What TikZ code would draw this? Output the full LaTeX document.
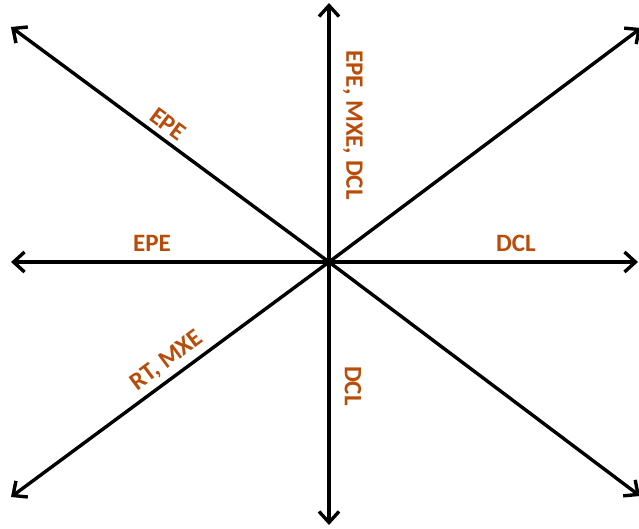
\documentclass[tikz,border=0pt]{standalone}
\usepackage{fontspec}
\setmainfont{Carlito}
\usetikzlibrary{arrows.meta}
\definecolor{labelbrown}{RGB}{184,76,8}
\tikzset{
  axis/.style={black, line width=3.4pt, -{Straight Barb[length=11pt,width=20pt,line width=3.4pt]}},
  tag/.style={text=labelbrown, font=\fontsize{25}{28}\selectfont\bfseries, inner sep=0pt}
}
\begin{document}
\begin{tikzpicture}[x=1pt,y=-1pt]
\useasboundingbox (0,0) rectangle (639,529);

\coordinate (O) at (329,262);
\coordinate (n) at (329,3);
\coordinate (s) at (329,525);
\coordinate (w) at (11,262);
\coordinate (e) at (638,262);
\coordinate (nw) at (11,27);
\coordinate (ne) at (641,28);
\coordinate (sw) at (11,497);
\coordinate (se) at (640,496);

\draw[axis] (O) -- (n);
\draw[axis] (O) -- (s);
\draw[axis] (O) -- (w);
\draw[axis] (O) -- (e);
\draw[axis] (O) -- (nw);
\draw[axis] (O) -- (ne);
\draw[axis] (O) -- (sw);
\draw[axis] (O) -- (se);

\node[tag, rotate=-36.6] (epediag) at (168,124) {EPE};
\node[tag, rotate=-90] (up) at (353,125) {EPE, MXE, DCL};
\node[tag] (epe) at (152,243) {EPE};
\node[tag] (dcl) at (516,243) {DCL};
\node[tag, rotate=36.6] (rtmxe) at (167,361) {RT, MXE};
\node[tag, rotate=-90] (down) at (353,386) {DCL};
\end{tikzpicture}
\end{document}
